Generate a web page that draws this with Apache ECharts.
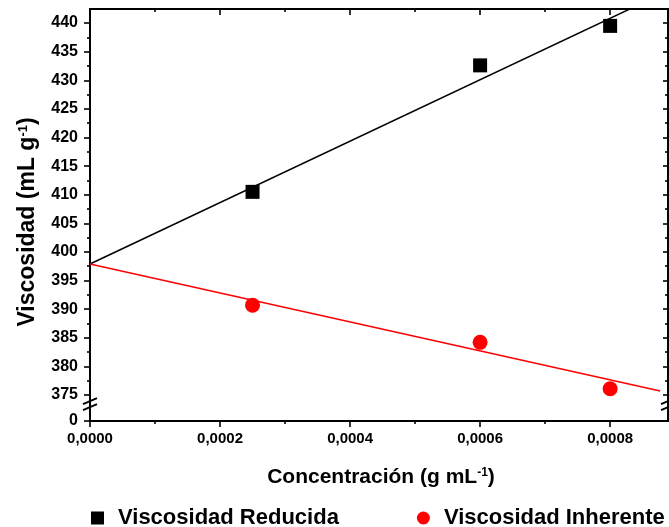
<!DOCTYPE html>
<html><head><meta charset="utf-8">
<script src="https://cdn.jsdelivr.net/npm/echarts@6/dist/echarts.min.js"></script>
<style>html,body{margin:0;padding:0;background:#fff}#c{width:669px;height:527px}</style>
</head><body><div id="c"></div>
<script>
// ---- data ----
const concentration = [0.00025, 0.0006, 0.0008];
const reducedViscosity = [410.5, 432.6, 439.5];
const inherentViscosity = [390.7, 384.2, 376.1];
const reducedFitX = [0, 0.000889];
const reducedFitY = [397.9, 445.6];
const inherentFitX = [0, 0.000877];
const inherentFitY = [397.9, 375.7];
const xMajorTicks = [0, 0.0002, 0.0004, 0.0006, 0.0008];
const xMinorTicks = [0.0001, 0.0003, 0.0005, 0.0007];
const yMajorTicks = [375, 380, 385, 390, 395, 400, 405, 410, 415, 420, 425, 430, 435, 440];
const yMinorTicks = [377.5, 382.5, 387.5, 392.5, 397.5, 402.5, 407.5, 412.5, 417.5, 422.5, 427.5, 432.5, 437.5];
const yZeroLabelValue = 370.46; // axis position of the "0" label below the break
const X_MAX = 0.000889, Y_MAX = 442.45, Y_BREAK = 373.4;

const FONT = 'Liberation Sans';
const chart = echarts.init(document.getElementById('c'), null, {renderer: 'canvas'});

function xAx(position, vals, len, inside, labels) {
  return {
    type: 'value', position, min: 0, max: X_MAX, gridIndex: 0,
    axisLine: {show: true, onZero: false, lineStyle: {color: '#000', width: 1.8}},
    axisTick: {show: true, customValues: vals, length: len, inside, lineStyle: {color: '#000', width: 1.6}},
    axisLabel: labels ? {show: true, customValues: vals, margin: 10, color: '#000', fontFamily: FONT,
      fontWeight: 'bold', fontSize: 15, formatter: v => v.toFixed(4).replace('.', ',')} : {show: false},
    splitLine: {show: false}
  };
}
function yAx(position, vals, len, inside, labels) {
  return {
    type: 'value', position, min: yZeroLabelValue, max: Y_MAX, gridIndex: 0,
    axisLine: {show: true, onZero: false, lineStyle: {color: '#000', width: 1.8}},
    axisTick: {show: true, customValues: vals, length: len, inside, lineStyle: {color: '#000', width: 1.6}},
    axisLabel: labels ? {show: true, customValues: vals, margin: 12, color: '#000', fontFamily: FONT,
      fontWeight: 'bold', fontSize: 16, formatter: v => (v < 372 ? '0' : String(v))} : {show: false},
    splitLine: {show: false}
  };
}

const zip = (xs, ys) => xs.map((x, i) => [x, ys[i]]);

const option = {
  animation: false,
  backgroundColor: '#fff',
  grid: {left: 90, top: 9, right: 1, bottom: 106, containLabel: false},
  xAxis: [
    xAx('bottom', xMajorTicks, 6, false, true),
    xAx('bottom', xMinorTicks, 3, false, false),
    xAx('top', xMajorTicks, 6, true, false),
    xAx('top', xMinorTicks, 3, true, false)
  ],
  yAxis: [
    yAx('left', [yZeroLabelValue].concat(yMajorTicks), 6, false, true),
    yAx('left', yMinorTicks, 3, false, false),
    yAx('right', yMajorTicks, 5, true, false),
    yAx('right', yMinorTicks, 3, true, false)
  ],
  legend: {
    data: ['Viscosidad Reducida', 'Viscosidad Inherente'],
    left: 91, top: 507, width: 700, padding: 0, itemWidth: 13, itemHeight: 13, itemGap: 78,
    textStyle: {fontSize: 22, fontWeight: 'bold', fontFamily: FONT, color: '#000', padding: [0, 0, 0, 9]}
  },
  series: [
    {name: 'fitReducida', type: 'line', data: zip(reducedFitX, reducedFitY), symbol: 'none', clip: true,
      lineStyle: {color: '#000', width: 1.5}, z: 2, silent: true},
    {name: 'fitInherente', type: 'line', data: zip(inherentFitX, inherentFitY), symbol: 'none', clip: true,
      lineStyle: {color: '#ff0000', width: 1.5}, z: 2, silent: true},
    {name: 'Viscosidad Reducida', type: 'scatter', data: zip(concentration, reducedViscosity), symbol: 'rect',
      symbolSize: 14, itemStyle: {color: '#000', opacity: 1}, z: 3},
    {name: 'Viscosidad Inherente', type: 'scatter', data: zip(concentration, inherentViscosity), symbol: 'circle',
      symbolSize: 15, itemStyle: {color: '#ff0000', opacity: 1}, z: 3}
  ]
};
chart.setOption(option);

// axis titles and break marks
const pL = chart.convertToPixel({xAxisIndex: 0, yAxisIndex: 0}, [0, Y_BREAK]);
const pR = chart.convertToPixel({xAxisIndex: 0, yAxisIndex: 0}, [X_MAX, Y_BREAK]);
function richFor(size) {
  return {
    b: {fontSize: size, fontWeight: 'bold', fontFamily: FONT, fill: '#000'},
    s: {fontSize: Math.round(size * 0.55), fontWeight: 'bold', fontFamily: FONT, fill: '#000', verticalAlign: 'top'}
  };
}
function breakMark(p) {
  return {
    type: 'group', x: p[0], y: p[1], z: 100,
    children: [
      {type: 'rect', shape: {x: -5, y: -5, width: 10, height: 10}, style: {fill: '#fff'}},
      {type: 'line', shape: {x1: -7, y1: 0, x2: 7, y2: -6}, style: {stroke: '#000', lineWidth: 2}},
      {type: 'line', shape: {x1: -7, y1: 6, x2: 7, y2: 0}, style: {stroke: '#000', lineWidth: 2}}
    ]
  };
}
chart.setOption({
  graphic: [
    breakMark(pL), breakMark(pR),
    {type: 'text', x: 381, y: 477, z: 100,
      style: {text: '{b|Concentración (g mL}{s|-1}{b|)}', rich: richFor(21), align: 'center', verticalAlign: 'middle'}},
    {type: 'text', x: 28, y: 222, rotation: Math.PI / 2, z: 100,
      style: {text: '{b|Viscosidad (mL g}{s|-1}{b|)}', rich: richFor(23), align: 'center', verticalAlign: 'middle'}}
  ]
});
</script></body></html>
